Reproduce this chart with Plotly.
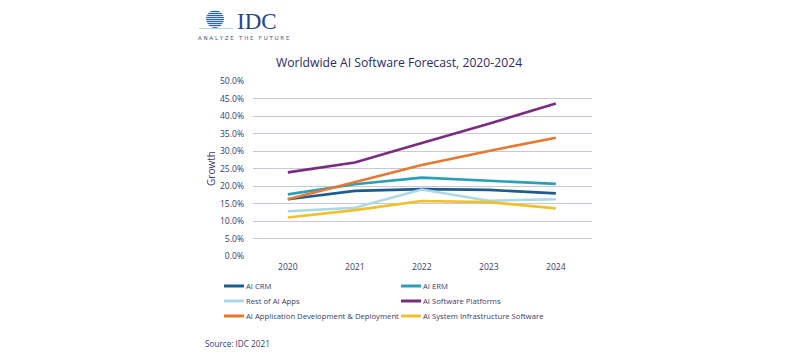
import plotly.graph_objects as go

years = [2020, 2021, 2022, 2023, 2024]
series_names = [
    "AI CRM",
    "AI ERM",
    "Rest of AI Apps",
    "AI Software Platforms",
    "AI Application Development & Deployment",
    "AI System Infrastructure Software",
]
ai_crm = [16.2, 18.6, 19.1, 18.9, 17.9]
ai_erm = [17.6, 20.5, 22.4, 21.5, 20.6]
rest_ai_apps = [12.8, 13.8, 19.0, 15.8, 16.2]
ai_platforms = [23.9, 26.7, 32.3, 37.8, 43.6]
ai_app_dev = [16.2, 21.0, 26.0, 30.0, 33.8]
ai_infra = [11.0, 13.1, 15.7, 15.4, 13.6]
series_values = [ai_crm, ai_erm, rest_ai_apps, ai_platforms, ai_app_dev, ai_infra]
colors = ["#1d5c8c", "#2b9fb9", "#a9d9e6", "#7a2c80", "#e8782f", "#efc12a"]
y_ticks = [0, 5, 10, 15, 20, 25, 30, 35, 40, 45, 50]

OFF = 8  # page body margin
W, H = 800 - OFF, 356 - OFF
L, R, T, B = 253 - OFF, 592 - OFF, 81 - OFF, 256 - OFF
pw, ph = R - L, B - T

def px(x):
    return (x - OFF - L) / pw

def py(y):
    return (B - (y - OFF)) / ph

fig = go.Figure()
for name, vals, col in zip(series_names, series_values, colors):
    fig.add_trace(go.Scatter(x=years, y=vals, name=name, mode="lines",
                             line=dict(color=col, width=2.6), showlegend=False))

tick_font = dict(family="Open Sans", size=8.6, color="#3a3a6a")
fig.update_layout(
    width=W, height=H,
    margin=dict(l=L, r=W - R, t=T, b=H - B, pad=0),
    paper_bgcolor="white", plot_bgcolor="white",
    font=dict(family="Open Sans", color="#3a3a6a"),
    title=dict(text="Worldwide AI Software Forecast, 2020-2024", x=(399 - OFF) / W, xanchor="center",
               y=1 - (63 - OFF) / H, yanchor="middle",
               font=dict(family="Open Sans", size=12.2, color="#2a2a6a")),
    xaxis=dict(range=[2019.48, 2024.54], tickvals=years, ticktext=[str(y) for y in years],
               showgrid=False, zeroline=False, showline=False, tickfont=tick_font,
               ticks="", ticklabelstandoff=4),
    yaxis=dict(range=[0, 50], tickvals=y_ticks, ticktext=[f"{v:.1f}%" for v in y_ticks],
               showgrid=True, gridcolor="#c9c5dd", gridwidth=1, zeroline=False,
               tickfont=tick_font, ticks="", ticklabelstandoff=8,
               title=dict(text="Growth", font=dict(family="Open Sans", size=10, color="#3a3a6a"),
                          standoff=2)),
)

# legend (two columns, three rows)
row_y = [286, 301, 316]
col_x = [224, 401]
for i, (name, col) in enumerate(zip(series_names, colors)):
    r, c = divmod(i, 2)
    x0 = col_x[c]
    yy = row_y[r]
    fig.add_shape(type="line", xref="paper", yref="paper",
                  x0=px(x0), x1=px(x0 + 20), y0=py(yy), y1=py(yy),
                  line=dict(color=col, width=3))
    fig.add_annotation(text=name, xref="paper", yref="paper", x=px(x0 + 20), y=py(yy),
                       xanchor="left", yanchor="middle", showarrow=False,
                       font=dict(family="Open Sans", size=7.7, color="#3a3a6a"))

fig.add_annotation(text="Source: IDC 2021", xref="paper", yref="paper", x=px(203), y=py(343),
                   xanchor="left", yanchor="middle", showarrow=False,
                   font=dict(family="Open Sans", size=8.2, color="#3a3a6a"))

# IDC logo
cx, cy, rad = 215, 19, 9
fig.add_shape(type="circle", xref="paper", yref="paper",
              x0=px(cx - rad), x1=px(cx + rad), y0=py(cy + rad), y1=py(cy - rad),
              fillcolor="#2a66a3", line=dict(width=0))
for yy in range(10, 30, 2):
    inside = abs(yy + 0.5 - cy) < rad
    fig.add_shape(type="line", xref="paper", yref="paper",
                  x0=px(199), x1=px(233), y0=py(yy + 0.5), y1=py(yy + 0.5),
                  line=dict(color="white" if inside else "#a8c4dc", width=0.8))
fig.add_annotation(text="IDC", xref="paper", yref="paper", x=px(236), y=py(21),
                   xanchor="left", yanchor="middle", showarrow=False, borderpad=0,
                   font=dict(family="Liberation Serif", size=23, color="#23478a"))
fig.add_annotation(text="A N A L Y Z E &nbsp; T H E &nbsp; F U T U R E", xref="paper", yref="paper",
                   x=px(196), y=py(38.5), xanchor="left", yanchor="middle", showarrow=False,
                   font=dict(family="DejaVu Sans", size=5.5, color="#3a5a8a"))

fig.write_html("out.html")
